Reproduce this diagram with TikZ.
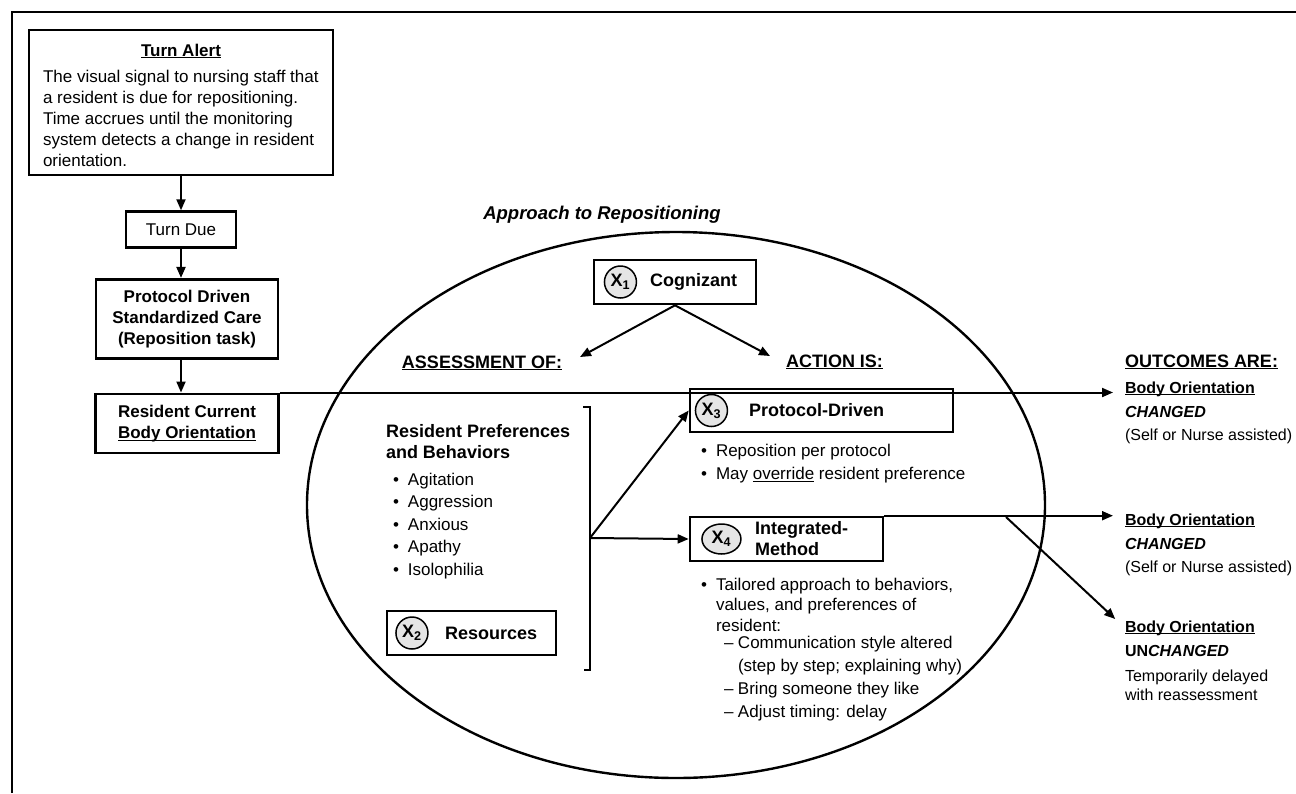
\documentclass[tikz,border=0pt]{standalone}
\usepackage{fontspec}
\setmainfont{Liberation Sans}
\usetikzlibrary{positioning,shapes.geometric,arrows.meta}

\newcommand{\uln}[1]{\underline{\raisebox{0pt}[\height][0pt]{#1}}}
\newcommand{\bul}{\makebox[15pt][l]{\textbullet}}
\newcommand{\dsh}{\makebox[14pt][l]{\textendash}}

\begin{document}
\begin{tikzpicture}[x=1pt, y=-1pt, line width=2pt, >={Triangle[length=11pt,width=9pt]},
    box/.style = {draw, line width=2.6pt, align=center, inner sep=0pt},
    xcirc/.style = {draw, circle, line width=1.5pt, fill=black!10, minimum size=32pt, inner sep=0pt, font=\fontsize{18}{18}\selectfont\bfseries},
    lbl/.style = {inner sep=0pt, align=left, font=\fontsize{18}{21}\selectfont\bfseries},
    hdr/.style = {inner sep=0pt, font=\fontsize{18}{21}\selectfont\bfseries},
    txt/.style = {inner sep=0pt, align=left, font=\fontsize{17}{21}\selectfont},
    outhdr/.style = {inner sep=0pt, font=\fontsize{16}{19}\selectfont\bfseries},
    outtxt/.style = {inner sep=0pt, align=left, font=\fontsize{16}{17}\selectfont}]
    \useasboundingbox (0,0) rectangle (1296,793);
    \draw[line width=2pt] (12,793) -- (12,12) -- (1296,12);

    \node[box, minimum width=304pt, minimum height=145pt] (alert) at (181,102.5) {};
    \node[anchor=base, inner sep=0pt, font=\fontsize{17}{21}\selectfont\bfseries] (alerttitle) at (181,56) {\uln{Turn Alert}};
    \node[txt, anchor=north west] (alerttext) at (42,69) {The visual signal to nursing staff that\\a resident is due for repositioning.\\Time accrues until the monitoring\\system detects a change in resident\\orientation.};
    \node[box, minimum width=110pt, minimum height=36pt, font=\fontsize{17}{21}\selectfont] (due) [below=34pt of alert] {Turn Due};
    \node[box, minimum width=182pt, minimum height=79pt, font=\fontsize{17}{21}\selectfont\bfseries] (proto) [below=29pt of due, xshift=6pt] {Protocol Driven\\Standardized Care\\(Reposition task)};
    \node[box, minimum width=183pt, minimum height=59pt, font=\fontsize{17}{21}\selectfont\bfseries] (res) [below=33pt of proto] {Resident Current\\\uln{Body Orientation}};

    \draw[->] (alert.south) -- (due.north);
    \draw[->] (due.south) -- (due.south |- proto.north);
    \draw[->] (due.south |- proto.south) -- (due.south |- res.north);

    \node[anchor=base, inner sep=0pt, font=\fontsize{18.5}{22}\selectfont\bfseries\itshape] (title) at (602,219) {Approach to Repositioning};
    \node[draw, ellipse, line width=2.4pt, minimum width=738pt, minimum height=546pt] (approach) at (676,505) {};

    \node[box, minimum width=162pt, minimum height=44pt] (cog) at (675,282) {};
    \node[xcirc, right=11pt of cog.west] (x1) {X\textsubscript{1}};
    \node[lbl, right=12pt of x1] (cogtxt) {Cognizant};

    \node[hdr, anchor=base] (assess) at (482,368) {\uln{ASSESSMENT OF:}};
    \node[hdr, anchor=base west] (action) at (785,367) {\uln{ACTION IS:}};
    \node[hdr, anchor=base west] (outcomes) at (1124,367) {\uln{OUTCOMES ARE:}};
    \coordinate (assesstip) at (580,357);
    \coordinate (actiontip) at (770,356);
    \draw[->] (cog.south) -- (assesstip);
    \draw[->] (cog.south) -- (actiontip);

    \node[lbl, anchor=north west] (prefs) at (385,423) {Resident Preferences\\and Behaviors};
    \node[txt, anchor=north west, font=\fontsize{17}{22.5}\selectfont] (preflist) at (392,472) {\bul Agitation\\\bul Aggression\\\bul Anxious\\\bul Apathy\\\bul Isolophilia};

    \node[box, minimum width=169pt, minimum height=44pt] (resources) at (471.5,633) {};
    \node[xcirc, right=9.5pt of resources.west] (x2) {X\textsubscript{2}};
    \node[lbl, right=15.5pt of x2] (restxt) {Resources};

    \draw (583,407) -- (590,407) -- (590,670) -- (584,670);
    \coordinate (brk) at (590,538);

    \node[box, minimum width=263pt, minimum height=43pt] (protodriven) at (821.5,410.5) {};
    \node[xcirc, right=6pt of protodriven.west] (x3) {X\textsubscript{3}};
    \node[lbl, right=20pt of x3] (protodriventxt) {Protocol-Driven};
    \node[txt, anchor=north west, font=\fontsize{17}{23}\selectfont] (protolist) at (700,443) {\bul Reposition per protocol\\\bul May \uln{override} resident preference};

    \node[box, minimum width=193pt, minimum height=44pt] (integ) at (786.5,539) {};
    \node[xcirc, ellipse, minimum width=39pt, minimum height=30pt, right=12.5pt of integ.west] (x4) {X\textsubscript{4}};
    \node[lbl, right=12.5pt of x4] (integtxt) {Integrated-\\Method};
    \node[txt, anchor=north west, font=\fontsize{17}{20.5}\selectfont] (integlist) at (700,577) {\bul Tailored approach to behaviors,\\\hspace*{15pt}values, and preferences of\\\hspace*{15pt}resident:};
    \node[txt, anchor=north west, font=\fontsize{17}{23}\selectfont] (sublist) at (723,635) {\dsh Communication style altered\\\hspace*{14pt}(step by step; explaining why)\\\dsh Bring someone they like\\\dsh Adjust timing: delay};

    \draw[->] (brk) -- (protodriven.west);
    \draw[->] (brk) -- (integ.west);

    \node[outhdr, anchor=base west] (out1) at (1124,393) {\uln{Body Orientation}};
    \node[outtxt, anchor=north west] (out1txt) at (1124,405) {\textbf{\textit{CHANGED}}\\[6pt](Self or Nurse assisted)};
    \node[outhdr, anchor=base west] (out2) at (1124,525) {\uln{Body Orientation}};
    \node[outtxt, anchor=north west] (out2txt) at (1124,537) {\textbf{\textit{CHANGED}}\\[6pt](Self or Nurse assisted)};
    \node[outhdr, anchor=base west] (out3) at (1124,632) {\uln{Body Orientation}};
    \node[outtxt, anchor=north west, font=\fontsize{16}{19}\selectfont] (out3txt) at (1124,644) {\textbf{UN\textit{CHANGED}}\\[6pt]Temporarily delayed\\with reassessment};

    \draw[->] (res.north east) -- ([xshift=-11pt]res.north east -| out1.west);
    \draw[->] (integ.north east) -- ([xshift=-11pt]integ.north east -| out2.west);
    \coordinate (split) at (1006,517);
    \draw[->, shorten >=12pt] (split) -- (out3.west);
\end{tikzpicture}
\end{document}
